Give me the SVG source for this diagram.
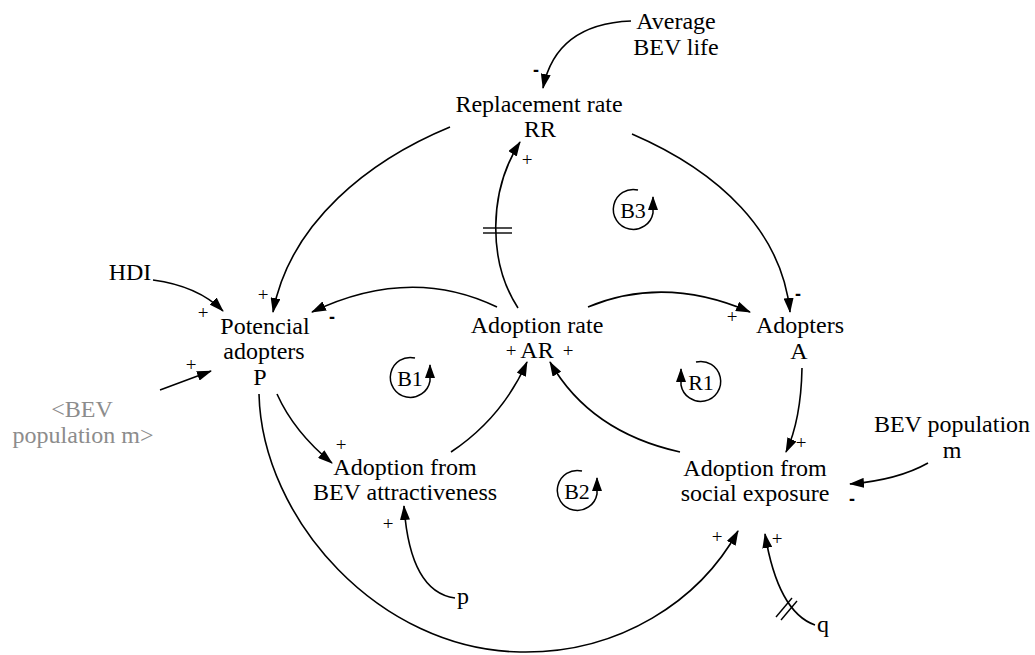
<svg xmlns="http://www.w3.org/2000/svg" width="1035" height="655" viewBox="0 0 1035 655">
  <defs>
    <style>
      .lbl { font-family: "Liberation Serif", "Times New Roman", serif; font-size: 24px; fill: #000; text-anchor: middle; }
      .shadow { fill: #8c8c8c; }
      .loopname { font-family: "Liberation Serif", "Times New Roman", serif; font-size: 22px; fill: #000; text-anchor: middle; }
      .sign { font-family: "Liberation Serif", "Times New Roman", serif; font-size: 19px; fill: #000; text-anchor: middle; }
      .neg { font-family: "Liberation Sans", Arial, sans-serif; font-size: 18px; font-weight: bold; fill: #000; text-anchor: middle; }
      .link { fill: none; stroke: #000; stroke-width: 1.6; marker-end: url(#ah); }
      .tick { fill: none; stroke: #000; stroke-width: 1.4; }
      .loop { fill: none; stroke: #000; stroke-width: 1.5; marker-end: url(#lah); }
    </style>
    <marker id="ah" markerUnits="userSpaceOnUse" markerWidth="15" markerHeight="10" refX="14" refY="5" orient="auto">
      <path d="M0,0 L15,5 L0,10 Z" fill="#000"/>
    </marker>
    <marker id="lah" markerUnits="userSpaceOnUse" markerWidth="14" markerHeight="10" refX="13" refY="5" orient="auto">
      <path d="M0,0 L14,5 L0,10 Z" fill="#000"/>
    </marker>
  </defs>

  <rect width="1035" height="655" fill="#fff"/>

  <!-- causal links -->
  <g id="connectors">
    <!-- Average BEV life -> Replacement rate -->
    <path class="link" d="M631 21 Q556 24 543 88"/>
    <!-- Replacement rate -> Potencial adopters -->
    <path class="link" d="M450 127 C370 160 290 222 273 312"/>
    <!-- Replacement rate -> Adopters -->
    <path class="link" d="M632 134 C720 172 782 232 790 312"/>
    <!-- Adoption rate -> Replacement rate (delayed) -->
    <path class="link" d="M518 308 C488 262 488 192 520 142"/>
    <line class="tick" x1="483" y1="228" x2="512" y2="228"/>
    <line class="tick" x1="483" y1="233" x2="512" y2="233"/>
    <!-- Adoption rate -> Potencial adopters -->
    <path class="link" d="M497 307 Q410 265 312 312"/>
    <!-- Adoption rate -> Adopters -->
    <path class="link" d="M588 307 Q665 275 750 312"/>
    <!-- HDI -> Potencial adopters -->
    <path class="link" d="M153 280 Q198 286 223 311"/>
    <!-- <BEV population m> -> Potencial adopters -->
    <path class="link" d="M160 390 L211 371"/>
    <!-- Potencial adopters -> Adoption from BEV attractiveness -->
    <path class="link" d="M277 394 Q294 432 332 463"/>
    <!-- Adoption from BEV attractiveness -> Adoption rate -->
    <path class="link" d="M451 452 Q502 418 527 362"/>
    <!-- Adoption from social exposure -> Adoption rate -->
    <path class="link" d="M680 452 Q590 432 550 362"/>
    <!-- Adopters -> Adoption from social exposure -->
    <path class="link" d="M802 368 Q801 420 786 452"/>
    <!-- BEV population m -> Adoption from social exposure -->
    <path class="link" d="M928 463 Q898 480 850 484"/>
    <!-- p -> Adoption from BEV attractiveness -->
    <path class="link" d="M455 598 Q410 592 404 506"/>
    <!-- Potencial adopters -> Adoption from social exposure -->
    <path class="link" d="M259 394 C262 520 380 650 520 652 C620 654 700 600 738 531"/>
    <!-- q -> Adoption from social exposure (delayed) -->
    <path class="link" d="M815 625 Q778 612 765 534"/>
    <line class="tick" x1="776" y1="617" x2="792" y2="598"/>
    <line class="tick" x1="781" y1="620" x2="797" y2="601"/>
  </g>

  <!-- polarity signs -->
  <g id="polarities">
    <text class="neg" x="536" y="76">-</text>
    <text class="sign" x="527" y="166">+</text>
    <text class="sign" x="263" y="301">+</text>
    <text class="sign" x="203" y="319">+</text>
    <text class="neg" x="332" y="323">-</text>
    <text class="sign" x="191" y="371">+</text>
    <text class="neg" x="798" y="300">-</text>
    <text class="sign" x="732" y="323">+</text>
    <text class="sign" x="511" y="357">+</text>
    <text class="sign" x="568" y="357">+</text>
    <text class="sign" x="341" y="451">+</text>
    <text class="sign" x="801" y="449">+</text>
    <text class="neg" x="852" y="505">-</text>
    <text class="sign" x="388" y="530">+</text>
    <text class="sign" x="717" y="543">+</text>
    <text class="sign" x="777" y="545">+</text>
  </g>

  <!-- variables -->
  <g id="avg-bev-life">
    <text class="lbl" x="676" y="29">Average</text>
    <text class="lbl" x="676" y="55">BEV life</text>
  </g>
  <g id="replacement-rate">
    <text class="lbl" x="539" y="112">Replacement rate</text>
    <text class="lbl" x="540" y="137">RR</text>
  </g>
  <g id="hdi">
    <text class="lbl" x="130" y="280">HDI</text>
  </g>
  <g id="potencial-adopters">
    <text class="lbl" x="265" y="334">Potencial</text>
    <text class="lbl" x="264" y="359">adopters</text>
    <text class="lbl" x="260" y="385">P</text>
  </g>
  <g id="bev-population-shadow">
    <text class="lbl shadow" x="82" y="417">&lt;BEV</text>
    <text class="lbl shadow" x="83" y="443">population m&gt;</text>
  </g>
  <g id="adoption-rate">
    <text class="lbl" x="537" y="333">Adoption rate</text>
    <text class="lbl" x="537" y="358">AR</text>
  </g>
  <g id="adopters">
    <text class="lbl" x="800" y="333">Adopters</text>
    <text class="lbl" x="799" y="359">A</text>
  </g>
  <g id="bev-population">
    <text class="lbl" x="952" y="432">BEV population</text>
    <text class="lbl" x="952" y="458">m</text>
  </g>
  <g id="adoption-attractiveness">
    <text class="lbl" x="405" y="475">Adoption from</text>
    <text class="lbl" x="405" y="500">BEV attractiveness</text>
  </g>
  <g id="adoption-social">
    <text class="lbl" x="755" y="476">Adoption from</text>
    <text class="lbl" x="755" y="501">social exposure</text>
  </g>
  <g id="p">
    <text class="lbl" x="463" y="604">p</text>
  </g>
  <g id="q">
    <text class="lbl" x="823" y="632">q</text>
  </g>

  <!-- loop identifiers -->
  <g id="loop-b1">
    <path class="loop" d="M415 358 A20 20 0 1 0 430 381 L430 365"/>
    <text class="loopname" x="410" y="386">B1</text>
  </g>
  <g id="loop-b3">
    <path class="loop" d="M638 190 A20 20 0 1 0 653 213 L653 197"/>
    <text class="loopname" x="633" y="218">B3</text>
  </g>
  <g id="loop-b2">
    <path class="loop" d="M582 471 A20 20 0 1 0 597 494 L597 478"/>
    <text class="loopname" x="577" y="499">B2</text>
  </g>
  <g id="loop-r1">
    <path class="loop" d="M696 362 A20 20 0 1 1 681 385 L681 369"/>
    <text class="loopname" x="701" y="390">R1</text>
  </g>
</svg>
